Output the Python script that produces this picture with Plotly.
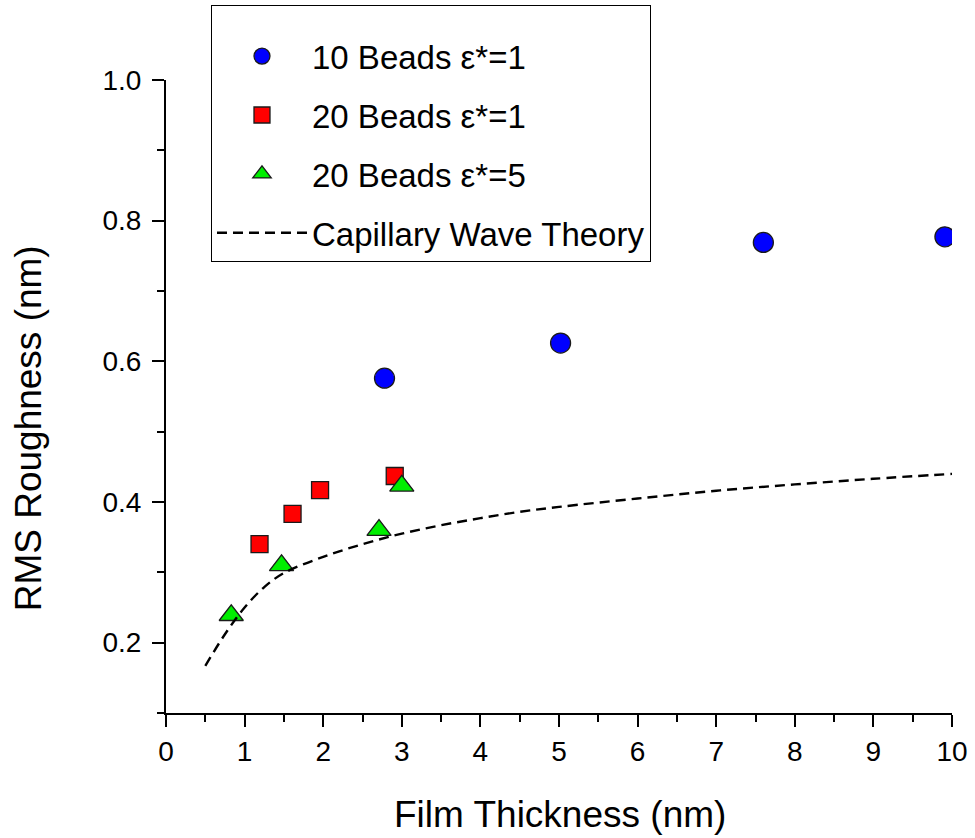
import plotly.graph_objects as go

# Simulation results: film thickness (nm) vs RMS roughness (nm)
beads10_e1_x = [2.78, 5.02, 7.60, 9.91]
beads10_e1_y = [0.576, 0.626, 0.769, 0.777]

beads20_e1_x = [1.19, 1.61, 1.96, 2.91]
beads20_e1_y = [0.340, 0.383, 0.417, 0.437]

beads20_e5_x = [0.83, 1.47, 2.71, 3.00]
beads20_e5_y = [0.239, 0.310, 0.360, 0.423]

# Capillary wave theory prediction
cwt_x = [0.5, 0.75, 1.0, 1.25, 1.5, 2.0, 2.5, 3.0, 3.5, 4.0, 4.5, 5.0, 6.0, 7.0, 8.0, 9.0, 10.0]
cwt_y = [0.167, 0.212, 0.250, 0.279, 0.299, 0.322, 0.340, 0.355, 0.367, 0.377, 0.386, 0.393, 0.405, 0.416, 0.425, 0.433, 0.440]

FONT = "Liberation Sans, Arial, sans-serif"
EDGE = dict(color="#1a1a1a", width=1.3)

fig = go.Figure()
fig.add_trace(go.Scatter(
    x=beads10_e1_x, y=beads10_e1_y, mode="markers", name="10 Beads \u03b5*=1",
    legendgroup="a",
    marker=dict(symbol="circle", size=20, color="#0000ff", line=EDGE)))
fig.add_trace(go.Scatter(
    x=beads20_e1_x, y=beads20_e1_y, mode="markers", name="20 Beads \u03b5*=1",
    legendgroup="b",
    marker=dict(symbol="square", size=17, color="#ff0000", line=EDGE)))
fig.add_trace(go.Scatter(
    x=beads20_e5_x, y=beads20_e5_y, mode="markers", name="20 Beads \u03b5*=5",
    legendgroup="c",
    marker=dict(symbol="triangle-up", size=21, color="#00ee00", line=EDGE)))
fig.add_trace(go.Scatter(
    x=cwt_x, y=cwt_y, mode="lines", name="Capillary Wave Theory",
    legendgroup="d",
    line=dict(color="black", width=2.4, dash="10px,6px", shape="spline")))

axis_common = dict(
    showline=True, linecolor="black", linewidth=2,
    ticks="outside", ticklen=12, tickwidth=2, tickcolor="black",
    showgrid=False, zeroline=False, mirror=False,
    tickfont=dict(family=FONT, size=28, color="black"),
)

fig.update_xaxes(
    range=[0, 10], tick0=0, dtick=1,
    minor=dict(ticks="outside", ticklen=7, tickwidth=2, tickcolor="black", dtick=0.5, showgrid=False),
    **axis_common)
fig.update_yaxes(
    range=[0.1, 1.0], tick0=0.2, dtick=0.2, tickformat=".1f", ticklabelstandoff=5,
    minor=dict(ticks="outside", ticklen=7, tickwidth=2, tickcolor="black", dtick=0.1, showgrid=False),
    **axis_common)

fig.add_annotation(text="Film Thickness (nm)", xref="paper", yref="paper",
                   x=0.5017, y=-0.1611, xanchor="center", yanchor="middle",
                   showarrow=False, font=dict(family=FONT, size=37, color="black"))
fig.add_annotation(text="RMS Roughness (nm)", xref="paper", yref="paper",
                   x=-0.1752, y=0.4502, xanchor="center", yanchor="middle", textangle=-90,
                   showarrow=False, font=dict(family=FONT, size=37, color="black"))

fig.update_layout(
    width=975, height=838,
    margin=dict(l=166, r=23, t=80, b=125, autoexpand=False),
    plot_bgcolor="white", paper_bgcolor="white",
    font=dict(family=FONT, color="black"),
    legend=dict(
        xref="container", yref="container",
        x=0.2164, y=0.994, xanchor="left", yanchor="top",
        bgcolor="white", bordercolor="black", borderwidth=1,
        font=dict(family=FONT, size=33, color="black"),
        title=dict(text="\u00a0", font=dict(family=FONT, size=17)),
        itemwidth=90, tracegroupgap=13, traceorder="grouped",
    ),
    showlegend=True,
)

fig.write_html("out.html")
